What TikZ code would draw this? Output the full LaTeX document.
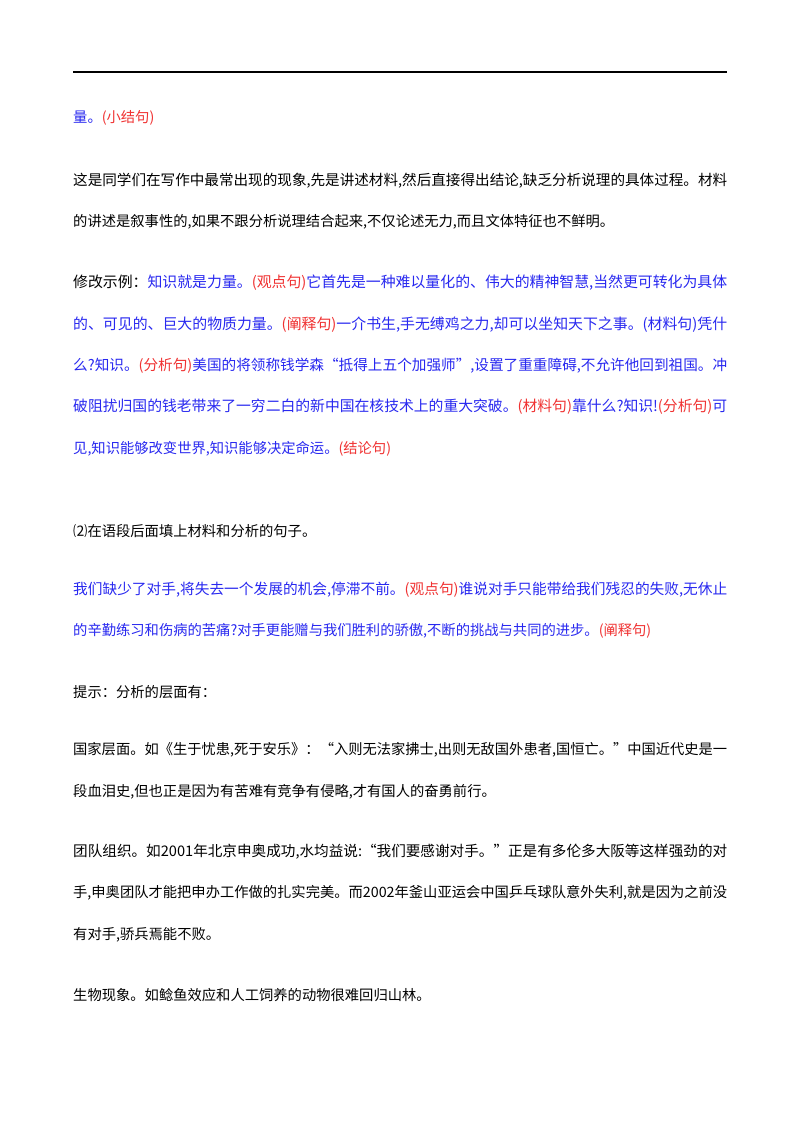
\documentclass[tikz,border=0pt]{standalone}
\usepackage{fontspec}
\setmainfont{Noto Sans CJK SC}
\definecolor{bl}{RGB}{40,40,240}
\definecolor{rd}{RGB}{240,50,50}
\newcommand{\R}[1]{\textcolor{rd}{#1}}
\newcommand{\FL}[1]{\resizebox{654pt}{!}{#1}}
\begin{document}
\begin{tikzpicture}[x=1pt,y=1pt,
  ln/.style={anchor=west,inner sep=0pt,font=\fontsize{14.3}{15}\selectfont}]
\useasboundingbox (0,0) rectangle (800,-1132);
\fill[white] (0,0) rectangle (800,-1132);
\draw[line width=1.5pt] (73,-72) -- (727,-72);
\node[ln,text=bl] (l1) at (73,-118) {量。\R{(小结句)}};
\node[ln] (l2) at (73,-181) {\FL{这是同学们在写作中最常出现的现象,先是讲述材料,然后直接得出结论,缺乏分析说理的具体过程。材料}};
\node[ln] (l3) at (73,-222) {的讲述是叙事性的,如果不跟分析说理结合起来,不仅论述无力,而且文体特征也不鲜明。};
\node[ln,text=bl] (l4) at (73,-283) {\FL{\textcolor{black}{修改示例：}知识就是力量。\R{(观点句)}它首先是一种难以量化的、伟大的精神智慧,当然更可转化为具体}};
\node[ln,text=bl] (l5) at (73,-325) {\FL{的、可见的、巨大的物质力量。\R{(阐释句)}一介书生,手无缚鸡之力,却可以坐知天下之事。(材料句)凭什}};
\node[ln,text=bl] (l6) at (73,-366) {\FL{么?知识。\R{(分析句)}美国的将领称钱学森“抵得上五个加强师”,设置了重重障碍,不允许他回到祖国。冲}};
\node[ln,text=bl] (l7) at (73,-407) {\FL{破阻扰归国的钱老带来了一穷二白的新中国在核技术上的重大突破。\R{(材料句)}靠什么?知识!\R{(分析句)}可}};
\node[ln,text=bl] (l8) at (73,-449) {见,知识能够改变世界,知识能够决定命运。\R{(结论句)}};
\node[ln] (l9) at (73,-531) {⑵在语段后面填上材料和分析的句子。};
\node[ln,text=bl] (l10) at (73,-590) {\FL{我们缺少了对手,将失去一个发展的机会,停滞不前。\R{(观点句)}谁说对手只能带给我们残忍的失败,无休止}};
\node[ln,text=bl] (l11) at (73,-631) {的辛勤练习和伤病的苦痛?对手更能赠与我们胜利的骄傲,不断的挑战与共同的进步。\R{(阐释句)}};
\node[ln] (l12) at (73,-692) {提示：分析的层面有：};
\node[ln] (l13) at (73,-750) {\FL{国家层面。如《生于忧患,死于安乐》：“入则无法家拂士,出则无敌国外患者,国恒亡。”中国近代史是一}};
\node[ln] (l14) at (73,-792) {段血泪史,但也正是因为有苦难有竞争有侵略,才有国人的奋勇前行。};
\node[ln] (l15) at (73,-852) {\FL{团队组织。如2001年北京申奥成功,水均益说:“我们要感谢对手。”正是有多伦多大阪等这样强劲的对}};
\node[ln] (l16) at (73,-893) {\FL{手,申奥团队才能把申办工作做的扎实完美。而2002年釜山亚运会中国乒乓球队意外失利,就是因为之前没}};
\node[ln] (l17) at (73,-935) {有对手,骄兵焉能不败。};
\node[ln] (l18) at (73,-995) {生物现象。如鲶鱼效应和人工饲养的动物很难回归山林。};
\end{tikzpicture}
\end{document}
